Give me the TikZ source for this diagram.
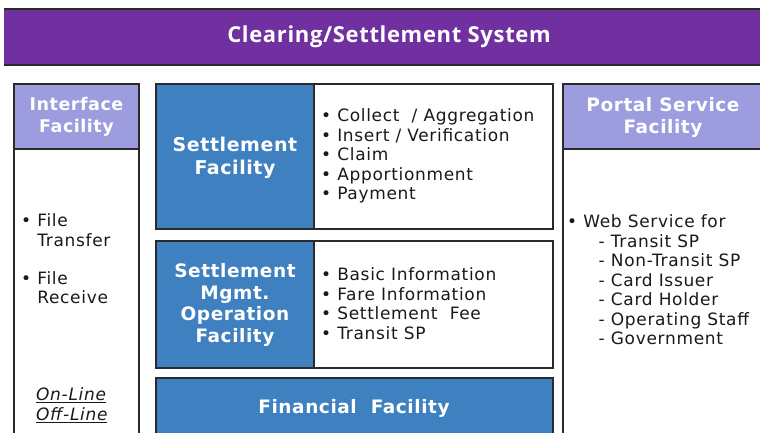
\documentclass[tikz,border=0pt]{standalone}
\usepackage{fontspec}
\setmainfont{DejaVu Sans}
\newfontfamily\bodyfont[LetterSpace=4]{DejaVu Sans}
\newfontfamily\hdrfont[LetterSpace=3]{DejaVu Sans}
\newfontfamily\titlefont[LetterSpace=3]{Open Sans}
\definecolor{banner}{HTML}{7030A0}
\definecolor{lav}{HTML}{9C9CDE}
\definecolor{fblue}{HTML}{3E80C0}
\definecolor{edge}{HTML}{2A2A2A}
\begin{document}
\begin{tikzpicture}[x=1pt,y=-1pt,
  frame/.style={draw=edge,line width=1.2pt},
  hdr/.style={text=white,font=\hdrfont\fontsize{18}{22}\selectfont\bfseries,align=center},
  body/.style={text=black!90,font=\bodyfont\fontsize{17}{19.5}\selectfont,align=left,anchor=north west,inner sep=0pt}]
\useasboundingbox (0,0) rectangle (760,433);
% banner
\fill[banner] (4,9) rectangle (762,65);
\draw[edge,line width=1.5pt] (4,9) -- (762,9);
\draw[edge,line width=1.5pt] (4,65) -- (762,65);
\node[text=white,font=\titlefont\fontsize{22}{24}\selectfont\bfseries] (title) at (389,37) {Clearing/Settlement System};
% left column
\fill[lav] (14,84) rectangle (139,149);
\draw[frame] (14,440) -- (14,84) -- (139,84) -- (139,440);
\draw[frame] (14,149) -- (139,149);
\node[hdr,font=\hdrfont\fontsize{17.5}{22}\selectfont\bfseries] (ifh) at (76.5,117) {Interface\\Facility};
\node[body] (ift) at (21,213.5) {\textbullet\ File\\\hspace*{0.95em}Transfer\\[18.5pt]\textbullet\ File\\\hspace*{0.95em}Receive};
\node[body,font=\bodyfont\fontsize{17}{19.5}\selectfont\itshape] (onoff) at (36,387.5) {\underline{On-Line}\\\underline{Off-Line}};
% settlement facility
\fill[fblue] (156,84) rectangle (314,229);
\draw[frame] (156,84) rectangle (553,229);
\draw[frame] (314,84) -- (314,229);
\node[hdr,font=\hdrfont\fontsize{19}{23}\selectfont\bfseries] (sfh) at (235,157.5) {Settlement\\Facility};
\node[body] (sft) at (321,108.5) {\textbullet\ Collect\ \ / Aggregation\\\textbullet\ Insert / Verification\\\textbullet\ Claim\\\textbullet\ Apportionment\\\textbullet\ Payment};
% mgmt
\fill[fblue] (156,241) rectangle (314,368);
\draw[frame] (156,241) rectangle (553,368);
\draw[frame] (314,241) -- (314,368);
\node[hdr,font=\hdrfont\fontsize{18.5}{21.5}\selectfont\bfseries] (smh) at (235,305) {Settlement\\Mgmt.\\Operation\\Facility};
\node[body] (smt) at (321,267.5) {\textbullet\ Basic Information\\\textbullet\ Fare Information\\\textbullet\ Settlement\ \ Fee\\\textbullet\ Transit SP};
% financial
\fill[fblue] (156,378) rectangle (553,440);
\draw[frame] (156,440) -- (156,378) -- (553,378) -- (553,440);
\node[hdr,font=\hdrfont\fontsize{18.5}{22}\selectfont\bfseries] (ffh) at (354,408) {Financial\ \ Facility};
% right column
\fill[lav] (563,84) rectangle (762,149);
\draw[frame] (563,440) -- (563,84) -- (762,84);
\draw[frame] (563,149) -- (762,149);
\node[hdr,font=\hdrfont\fontsize{18.5}{22}\selectfont\bfseries] (psh) at (663,117) {Portal Service\\Facility};
\node[body] (pst) at (567,214.5) {\textbullet\ Web Service for\\\hspace*{1.85em}- Transit SP\\\hspace*{1.85em}- Non-Transit SP\\\hspace*{1.85em}- Card Issuer\\\hspace*{1.85em}- Card Holder\\\hspace*{1.85em}- Operating Staff\\\hspace*{1.85em}- Government};
\end{tikzpicture}
\end{document}
